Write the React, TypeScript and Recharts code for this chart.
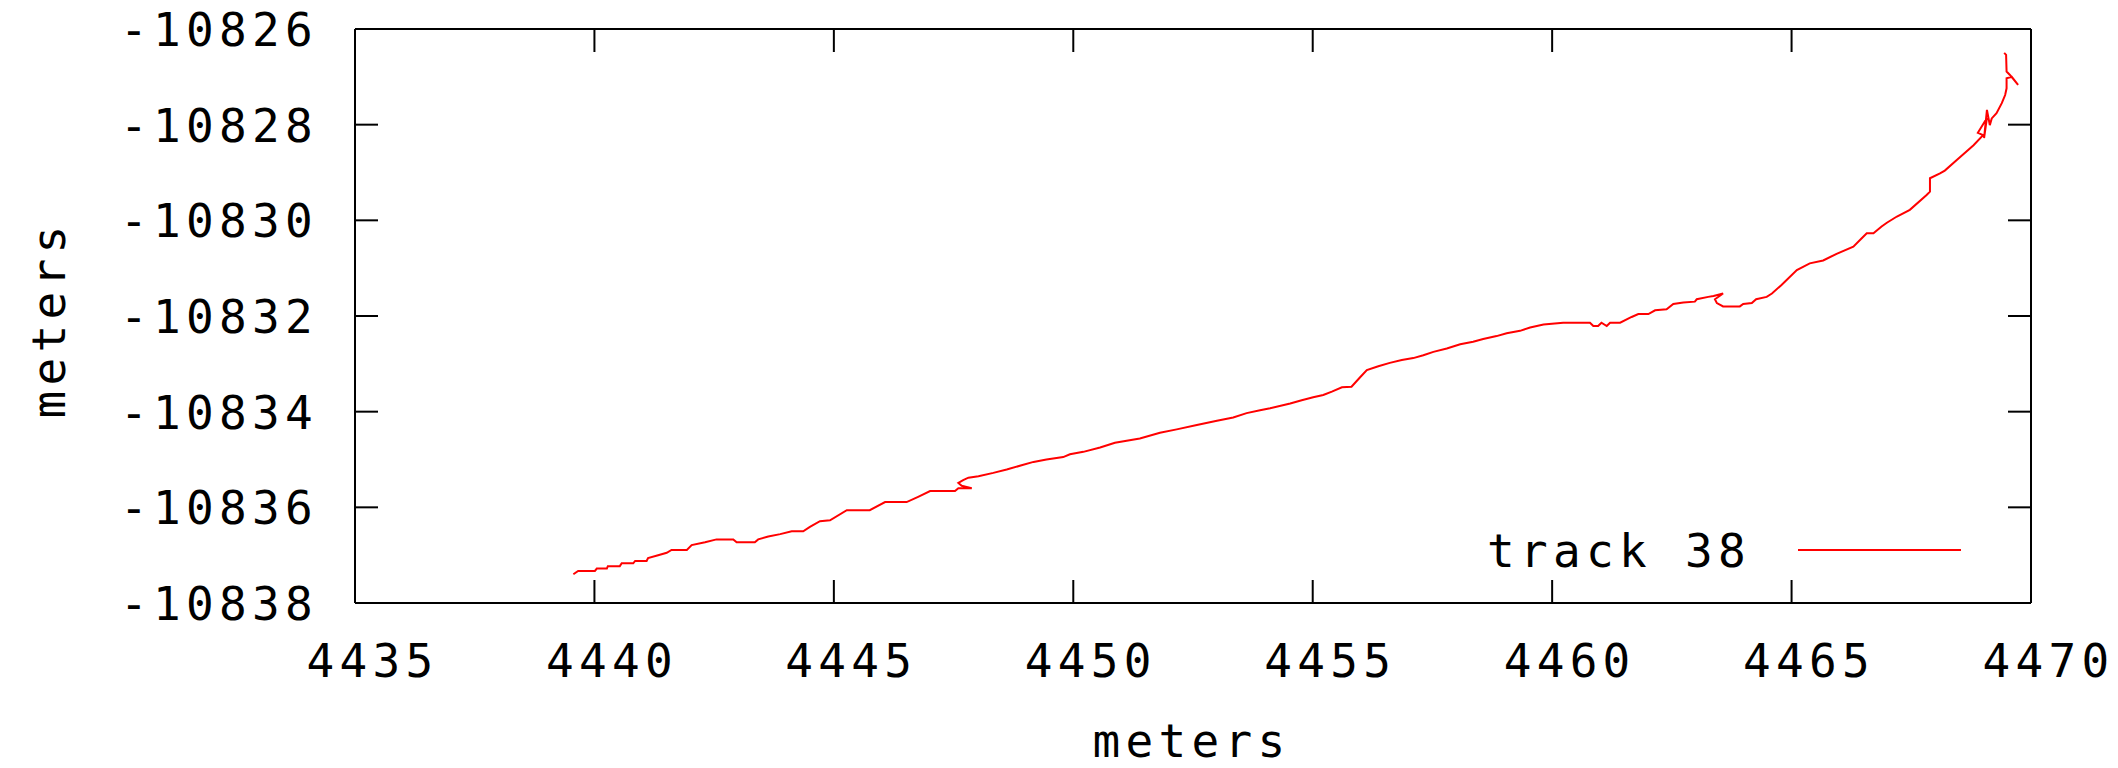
import React from 'react';
import { LineChart, Line, XAxis, YAxis, Legend } from 'recharts';

const seriesName = 'track 38';

const xTicks = [4435, 4440, 4445, 4450, 4455, 4460, 4465, 4470];
const yTicks = [-10838, -10836, -10834, -10832, -10830, -10828, -10826];

const trackX = [
  4439.56, 4439.66, 4440.01, 4440.05, 4440.26, 4440.28, 4440.53, 4440.57, 4440.81, 4440.85,
  4441.09, 4441.12, 4441.33, 4441.51, 4441.61, 4441.93, 4442.03, 4442.31, 4442.55, 4442.90,
  4442.97, 4443.35, 4443.42, 4443.63, 4443.88, 4444.12, 4444.36, 4444.50, 4444.71, 4444.92,
  4445.27, 4445.75, 4446.07, 4446.52, 4446.76, 4447.01, 4447.53, 4447.60, 4447.88, 4447.67,
  4447.60, 4447.70, 4447.81, 4448.02, 4448.33, 4448.61, 4448.92, 4449.17, 4449.44, 4449.79,
  4449.93, 4450.21, 4450.56, 4450.87, 4451.39, 4451.81, 4452.16, 4452.58, 4453.00, 4453.34,
  4453.62, 4453.90, 4454.11, 4454.53, 4454.77, 4455.01, 4455.22, 4455.40, 4455.61, 4455.81,
  4455.99, 4456.13, 4456.37, 4456.61, 4456.86, 4457.10, 4457.31, 4457.52, 4457.80, 4458.08,
  4458.35, 4458.56, 4458.84, 4459.05, 4459.33, 4459.54, 4459.82, 4460.23, 4460.79, 4460.86,
  4460.96, 4461.03, 4461.14, 4461.21, 4461.42, 4461.66, 4461.80, 4462.01, 4462.15, 4462.39,
  4462.53, 4462.74, 4462.98, 4463.02, 4463.26, 4463.37, 4463.57, 4463.40, 4463.44, 4463.57,
  4463.92, 4463.99, 4464.17, 4464.26, 4464.48, 4464.59, 4464.79, 4465.11, 4465.38, 4465.66,
  4465.94, 4466.29, 4466.46, 4466.57, 4466.71, 4466.88, 4466.99, 4467.20, 4467.47, 4467.82,
  4467.89, 4467.89, 4468.10, 4468.20, 4468.45, 4468.80, 4469.00, 4468.89, 4469.08, 4469.02,
  4469.08, 4469.14, 4469.18, 4469.28, 4469.39, 4469.46, 4469.49, 4469.49, 4469.60, 4469.73,
  4469.56, 4469.49, 4469.48, 4469.44,
];

const trackY = [
  -10837.40, -10837.33, -10837.33, -10837.28, -10837.28, -10837.23, -10837.23, -10837.17, -10837.17, -10837.12,
  -10837.12, -10837.06, -10837.00, -10836.95, -10836.89, -10836.89, -10836.79, -10836.73, -10836.67, -10836.67,
  -10836.73, -10836.73, -10836.67, -10836.61, -10836.56, -10836.50, -10836.50, -10836.41, -10836.29, -10836.27,
  -10836.06, -10836.06, -10835.89, -10835.89, -10835.78, -10835.66, -10835.66, -10835.60, -10835.60, -10835.55,
  -10835.49, -10835.43, -10835.38, -10835.35, -10835.28, -10835.21, -10835.12, -10835.05, -10835.00, -10834.95,
  -10834.89, -10834.84, -10834.75, -10834.65, -10834.56, -10834.44, -10834.37, -10834.28, -10834.19, -10834.12,
  -10834.03, -10833.97, -10833.93, -10833.83, -10833.76, -10833.70, -10833.65, -10833.58, -10833.49, -10833.48,
  -10833.28, -10833.13, -10833.05, -10832.98, -10832.92, -10832.88, -10832.82, -10832.75, -10832.68, -10832.59,
  -10832.54, -10832.48, -10832.42, -10832.36, -10832.31, -10832.24, -10832.18, -10832.14, -10832.14, -10832.21,
  -10832.21, -10832.14, -10832.21, -10832.14, -10832.14, -10832.02, -10831.96, -10831.96, -10831.88, -10831.86,
  -10831.75, -10831.72, -10831.70, -10831.65, -10831.60, -10831.58, -10831.53, -10831.65, -10831.73, -10831.80,
  -10831.80, -10831.75, -10831.73, -10831.65, -10831.60, -10831.53, -10831.35, -10831.04, -10830.90, -10830.84,
  -10830.70, -10830.55, -10830.38, -10830.27, -10830.27, -10830.13, -10830.05, -10829.92, -10829.78, -10829.47,
  -10829.40, -10829.12, -10829.02, -10828.96, -10828.74, -10828.43, -10828.22, -10828.17, -10827.86, -10828.28,
  -10827.69, -10828.01, -10827.87, -10827.76, -10827.55, -10827.38, -10827.24, -10827.03, -10827.00, -10827.17,
  -10826.96, -10826.89, -10826.54, -10826.50,
];

const data = trackX.map((x, i) => ({ x, y: trackY[i] }));

const FONT = {
  fontFamily: '"DejaVu Sans Mono", monospace',
  fontSize: 46,
  letterSpacing: 5.3,
  fill: '#000',
};

const TICK = 23;
const AXIS_W = 2;

const LeftTick = (props: any) => {
  const { x, y, payload } = props;
  return (
    <g>
      <line x1={x} y1={y} x2={x + TICK} y2={y} stroke="#000" strokeWidth={AXIS_W} />
      <text x={x - 37} y={y + 17} textAnchor="end" style={FONT}>
        {String(payload.value)}
      </text>
    </g>
  );
};

const RightTick = (props: any) => {
  const { x, y } = props;
  return <line x1={x} y1={y} x2={x - TICK} y2={y} stroke="#000" strokeWidth={AXIS_W} />;
};

const BottomTick = (props: any) => {
  const { x, y, payload } = props;
  return (
    <g>
      <line x1={x} y1={y} x2={x} y2={y - TICK} stroke="#000" strokeWidth={AXIS_W} />
      <text x={x + 17.5} y={y + 74} textAnchor="middle" style={FONT}>
        {String(payload.value)}
      </text>
    </g>
  );
};

const TopTick = (props: any) => {
  const { x, y } = props;
  return <line x1={x} y1={y} x2={x} y2={y + TICK} stroke="#000" strokeWidth={AXIS_W} />;
};

const XTitle = () => (
  <text x={1191.5} y={757} textAnchor="middle" style={FONT}>
    meters
  </text>
);

const YTitle = () => (
  <text x={65} y={319.5} textAnchor="middle" transform="rotate(-90, 65, 319.5)" style={FONT}>
    meters
  </text>
);

const LegendContent = (props: any) => {
  const item = (props.payload && props.payload[0]) || { value: seriesName, color: '#ff0000' };
  return (
    <svg width={560} height={70} style={{ overflow: 'visible', display: 'block' }}>
      <text x={47} y={47} textAnchor="start" style={FONT}>
        {item.value}
      </text>
      <line x1={358} y1={30} x2={521} y2={30} stroke={item.color || '#ff0000'} strokeWidth={2} />
    </svg>
  );
};

export default function App() {
  return (
    <div style={{ position: 'absolute', left: 0, top: 0, width: 2118, height: 768, background: '#fff' }}>
      <LineChart width={2118} height={768} data={data} margin={{ top: 28, right: 86, bottom: 0, left: 0 }}>
        <XAxis
          xAxisId="bottom"
          dataKey="x"
          type="number"
          orientation="bottom"
          domain={[4435, 4470]}
          ticks={xTicks}
          interval={0}
          height={165}
          tickSize={0}
          tickMargin={0}
          tickLine={false}
          axisLine={{ stroke: '#000', strokeWidth: AXIS_W }}
          tick={<BottomTick />}
          allowDataOverflow
          label={<XTitle />}
        />
        <XAxis
          xAxisId="top"
          dataKey="x"
          type="number"
          orientation="top"
          domain={[4435, 4470]}
          ticks={xTicks}
          interval={0}
          height={1}
          tickSize={0}
          tickMargin={0}
          tickLine={false}
          axisLine={{ stroke: '#000', strokeWidth: AXIS_W }}
          tick={<TopTick />}
          allowDataOverflow
        />
        <YAxis
          yAxisId="left"
          dataKey="y"
          type="number"
          orientation="left"
          domain={[-10838, -10826]}
          ticks={yTicks}
          interval={0}
          width={355}
          tickSize={0}
          tickMargin={0}
          tickLine={false}
          axisLine={{ stroke: '#000', strokeWidth: AXIS_W }}
          tick={<LeftTick />}
          allowDataOverflow
          label={<YTitle />}
        />
        <YAxis
          yAxisId="right"
          dataKey="y"
          type="number"
          orientation="right"
          domain={[-10838, -10826]}
          ticks={yTicks}
          interval={0}
          width={1}
          tickSize={0}
          tickMargin={0}
          tickLine={false}
          axisLine={{ stroke: '#000', strokeWidth: AXIS_W }}
          tick={<RightTick />}
          allowDataOverflow
        />
        <Legend
          layout="horizontal"
          verticalAlign="middle"
          align="center"
          content={<LegendContent />}
          wrapperStyle={{ position: 'absolute', left: 1440, top: 520, width: 560, height: 70, pointerEvents: 'none' }}
        />
        <Line
          xAxisId="bottom"
          yAxisId="left"
          type="linear"
          dataKey="y"
          name={seriesName}
          stroke="#ff0000"
          strokeWidth={2}
          dot={false}
          activeDot={false}
          isAnimationActive={false}
        />
      </LineChart>
    </div>
  );
}
